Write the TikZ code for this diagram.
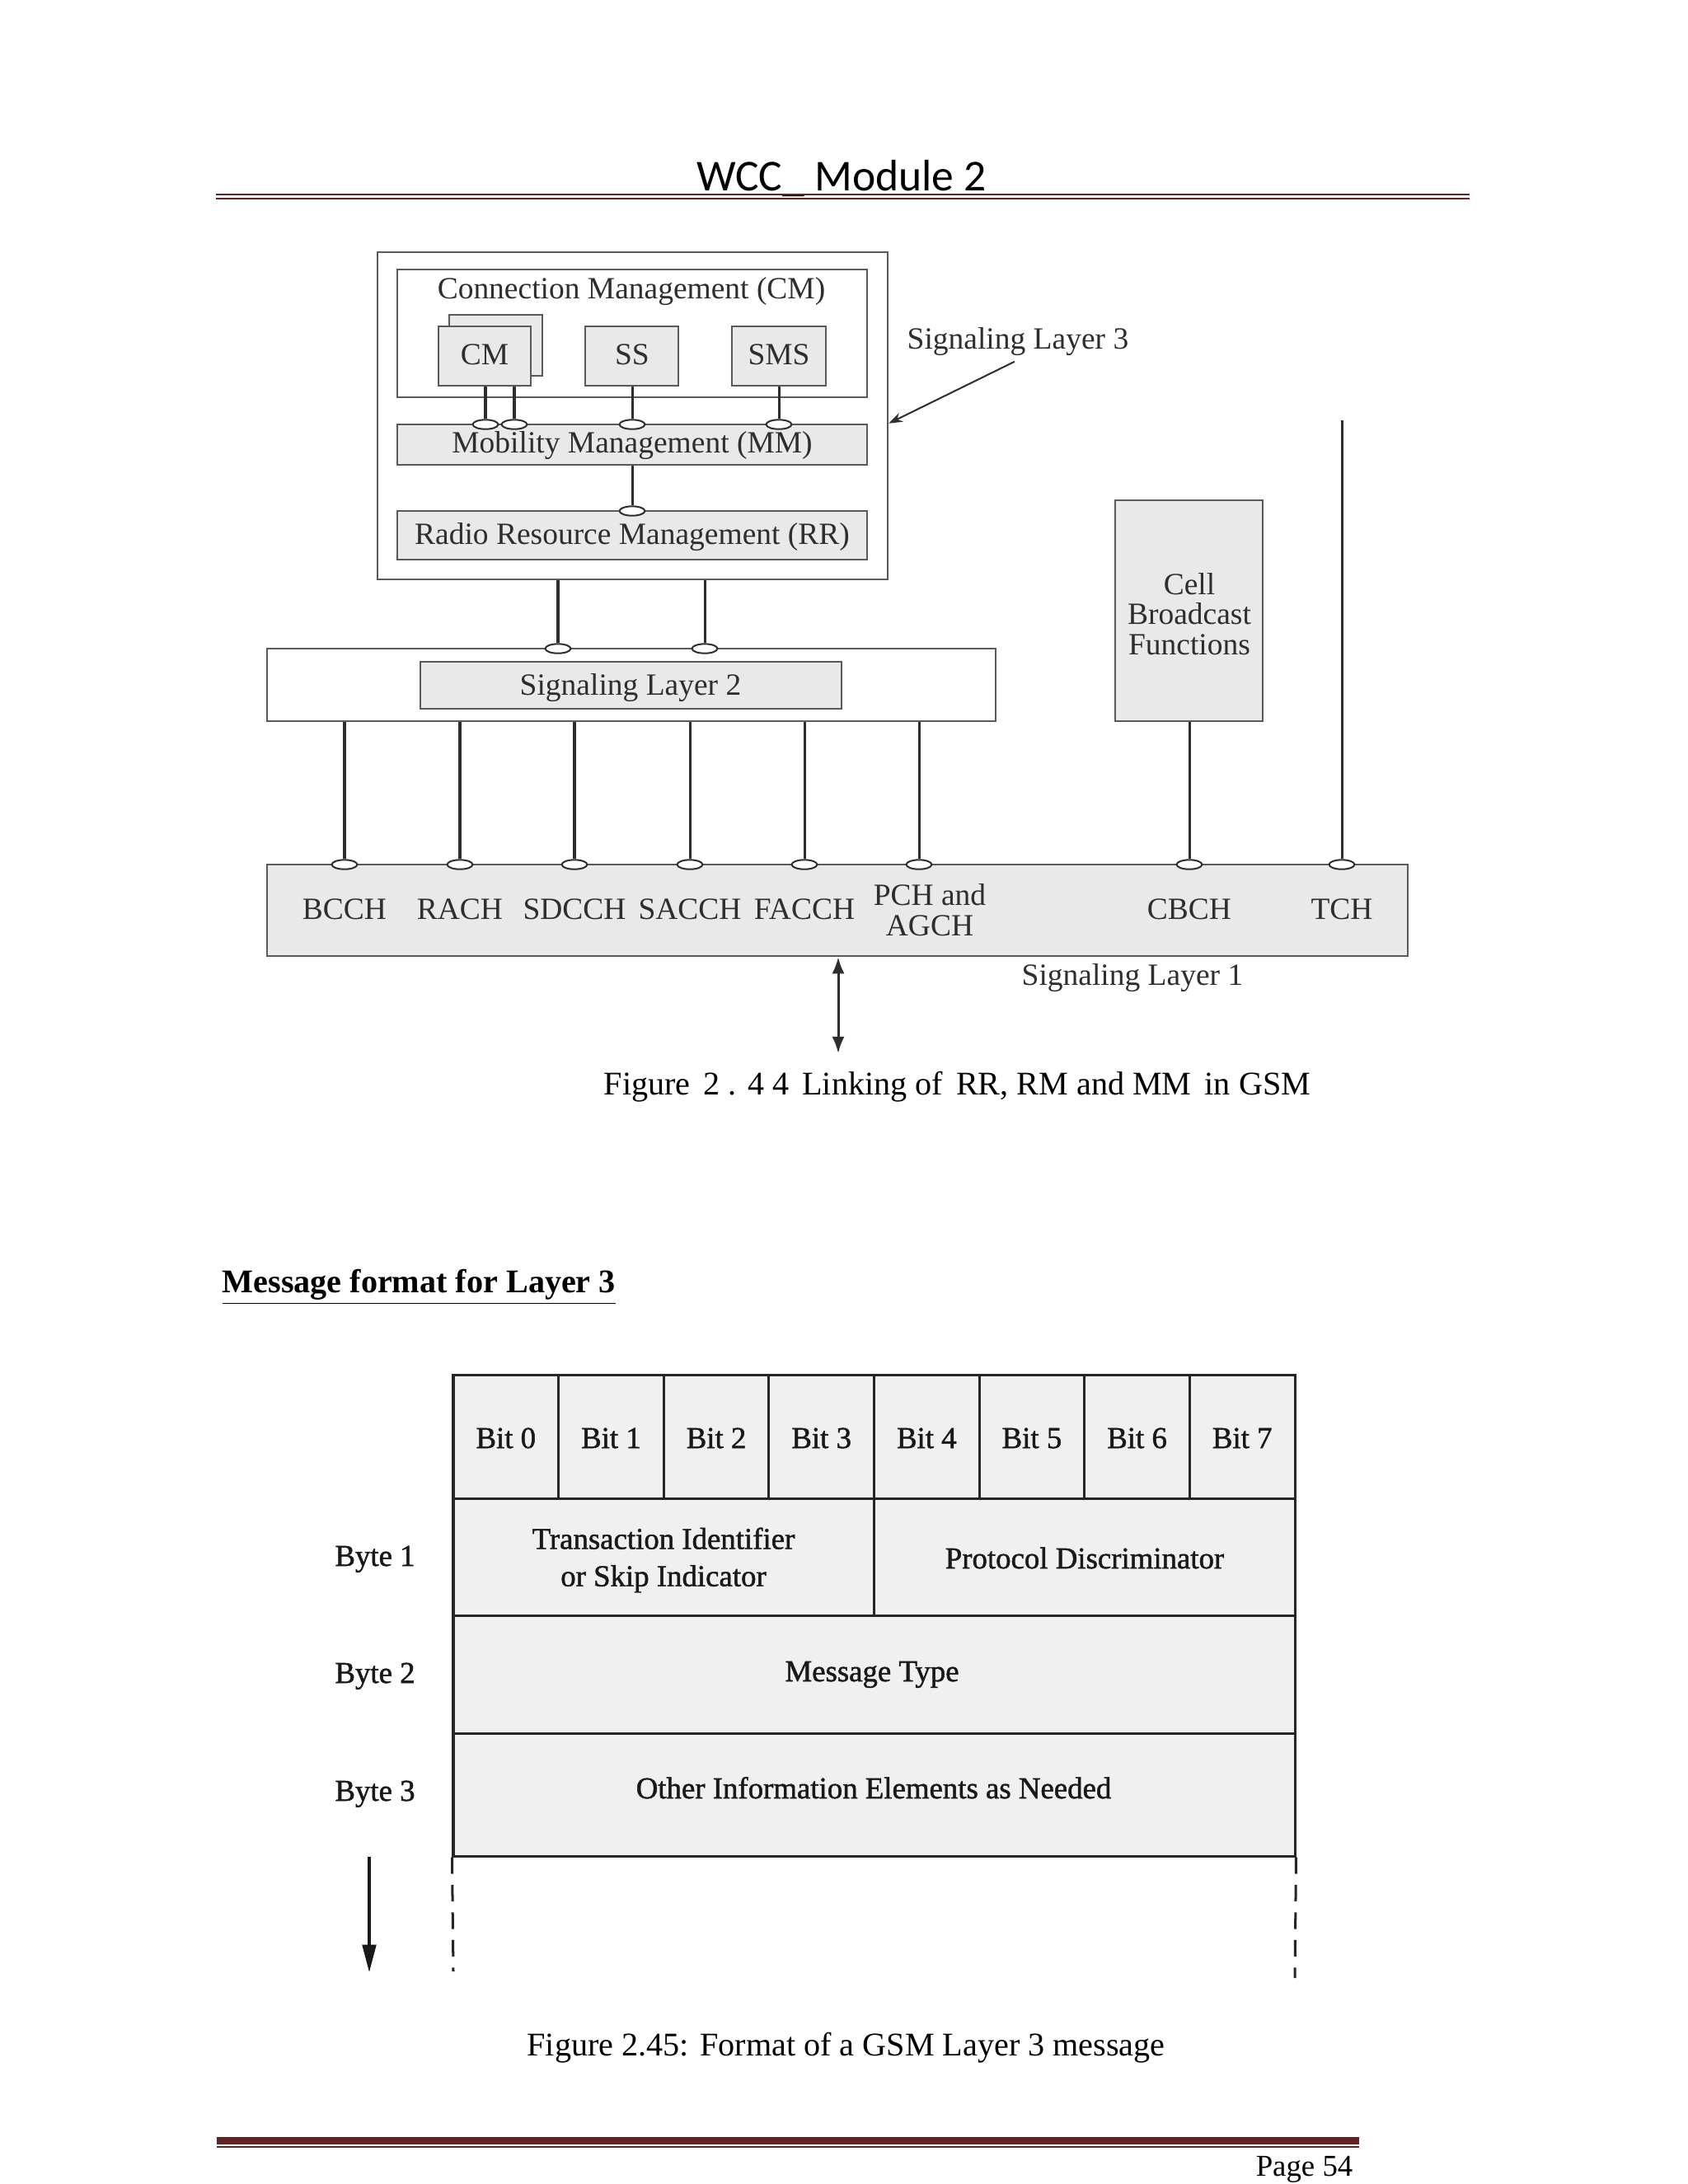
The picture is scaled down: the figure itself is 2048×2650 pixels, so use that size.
\documentclass[tikz,border=0pt]{standalone}
\usepackage{fontspec}
\setmainfont{Liberation Serif}
\newfontfamily\hdrfont{Carlito}
\newfontfamily\scanfont[FakeBold=1.3]{Liberation Serif}
\usetikzlibrary{arrows.meta,fit,shapes.geometric,calc}
\definecolor{maroon}{HTML}{622423}
\definecolor{boxgray}{HTML}{E9E9E9}
\definecolor{linegray}{HTML}{5A5A5A}
\definecolor{ink}{HTML}{2E2E2E}
\tikzset{
  dfont/.style={font=\fontsize{11.2}{11}\selectfont, text=ink},
  outerbox/.style={draw=linegray, line width=0.75pt, fill=white, inner sep=0pt},
  graybox/.style={draw=linegray, line width=0.75pt, fill=boxgray, inner sep=0pt},
  conn/.style={draw=ink, line width=0.9pt},
  port/.style={ellipse, draw=ink, line width=0.6pt, fill=white, minimum width=9.2pt, minimum height=3.4pt, inner sep=0pt},
  lbl/.style={dfont, inner sep=0pt, anchor=base},
  cell/.style={draw=black!85, line width=0.9pt, fill=black!6, inner sep=0pt},
  scanlbl/.style={font=\scanfont\fontsize{11}{13.5}\selectfont, text=black!90, inner sep=0pt, anchor=base, align=center},
  capfont/.style={font=\fontsize{12}{14}\selectfont, inner sep=0pt},
  hdrrule/.style={draw=maroon},
}
\begin{document}
\begin{tikzpicture}[x=0.29883pt, y=-0.29883pt]
\useasboundingbox (0,0) rectangle (2048,2650);
\fill[white] (0,0) rectangle (2048,2650);

% ---------- page header ----------
\node[font=\hdrfont\fontsize{16}{18}\selectfont, inner sep=0pt, anchor=base] (title) at (1021,231) {WCC\_ Module 2};
\draw[hdrrule, line width=0.8pt] (262,236) -- (1783,236);
\draw[hdrrule, line width=0.4pt] (262,241) -- (1783,241);

% ---------- Figure 2.44 ----------
\node[outerbox, fit={(458,306)(1077,703)}] (l3) {};
\node[outerbox, fit={(482,327)(1052,482)}] (cmgr) {};
\node[lbl] (cmlbl) at (766,362) {Connection Management (CM)};
\node[graybox, fit={(545,382)(658,456)}] (cmback) {};
\node[graybox, fit={(532,396)(644,468)}] (cmf) {};
\node[lbl] (cmtxt) at (588,442) {CM};
\node[graybox, fit={(710,396)(823,468)}] (ss) {};
\node[lbl] (sstxt) at (767,442) {SS};
\node[graybox, fit={(888,396)(1002,468)}] (sms) {};
\node[lbl] (smstxt) at (945,442) {SMS};
\node[graybox, fit={(482,515)(1052,564)}] (mm) {};
\node[lbl] (mmtxt) at (767,549) {Mobility Management (MM)};
\node[graybox, fit={(482,620)(1052,679)}] (rr) {};
\node[lbl] (rrtxt) at (767,660) {Radio Resource Management (RR)};

\node[outerbox, fit={(324,787)(1208,875)}] (l2) {};
\node[graybox, fit={(510,803)(1021,860)}] (l2in) {};
\node[lbl] (l2txt) at (765,843) {Signaling Layer 2};
\node[graybox, fit={(1353,607)(1532,875)}] (cbf) {};
\node[dfont, inner sep=0pt, align=center] (cbftxt) at (1443,745) {Cell\\Broadcast\\Functions};
\node[graybox, fit={(324,1049)(1708,1160)}] (l1) {};

% ports
\node[port] (pcm1) at (589,515) {};
\node[port] (pcm2) at (624,515) {};
\node[port] (pss) at (767,515) {};
\node[port] (psms) at (945,515) {};
\node[port] (prr) at (767,620) {};
\node[port] (pl2a) at (677,787) {};
\node[port] (pl2b) at (855,787) {};
\foreach \n/\x in {bcch/418, rach/558, sdcch/697, sacch/837, facch/976, pch/1115, cbch/1443, tch/1628}
  \node[port] (p\n) at (\x,1049) {};

% connectors
\draw[conn] (cmf.south -| pcm1) -- (pcm1.north);
\draw[conn] (cmf.south -| pcm2) -- (pcm2.north);
\draw[conn] (ss.south -| pss) -- (pss.north);
\draw[conn] (sms.south -| psms) -- (psms.north);
\draw[conn] (mm.south -| prr) -- (prr.north);
\draw[conn] (l3.south -| pl2a) -- (pl2a.north);
\draw[conn] (l3.south -| pl2b) -- (pl2b.north);
\foreach \n in {bcch, rach, sdcch, sacch, facch, pch}
  \draw[conn] (l2.south -| p\n) -- (p\n.north);
\draw[conn] (cbf.south -| pcbch) -- (pcbch.north);
\coordinate (tchtop) at (1628,510);
\draw[conn] (tchtop) -- (ptch.north);

% channel labels
\node[lbl] (bcch) at (418,1115) {BCCH};
\node[lbl] (rach) at (558,1115) {RACH};
\node[lbl] (sdcch) at (697,1115) {SDCCH};
\node[lbl] (sacch) at (837,1115) {SACCH};
\node[lbl] (facch) at (976,1115) {FACCH};
\node[dfont, inner sep=0pt, align=center] (pchagch) at (1128,1104) {PCH and\\AGCH};
\node[lbl] (cbch) at (1443,1115) {CBCH};
\node[lbl] (tch) at (1628,1115) {TCH};

% side labels and arrows
\node[lbl, anchor=base west] (sl3) at (1100,423) {Signaling Layer 3};
\draw[ink, line width=0.6pt, -{Stealth[length=5pt,width=3.5pt]}] ($(sl3.south)+(-4,7)$) -- (l3.east |- mm.north);
\node[lbl, anchor=base west] (sl1) at (1239,1195) {Signaling Layer 1};
\coordinate (ioend) at (1017,1278);
\draw[conn, {Latex[length=6pt,width=4.5pt]}-{Latex[length=6pt,width=4.5pt]}] (l1.south -| ioend) -- (ioend);

\node[capfont, anchor=base west] (cap1) at (732,1328) {Figure\hspace{0.4em}2 . 4 4\hspace{0.4em}Linking of\hspace{0.4em}RR, RM and MM\hspace{0.4em}in GSM};

% ---------- heading ----------
\node[capfont, anchor=base west] (head) at (269,1568) {\bfseries\underline{Message format for Layer 3}};

% ---------- Figure 2.45 ----------
\foreach \i in {0,...,7} {
  \pgfmathsetmacro\xa{550+127.625*\i}
  \pgfmathsetmacro\xb{550+127.625*(\i+1)}
  \pgfmathsetmacro\xc{550+127.625*(\i+0.5)}
  \node[cell, fit={(\xa,1668)(\xb,1818)}] (bit\i) {};
  \node[scanlbl] (bit\i txt) at (\xc,1757) {Bit \i};
}
\node[cell, fit={(550,1818)(1060.5,1960)}] (tid) {};
\node[scanlbl, anchor=center] (tidtxt) at (805,1893) {Transaction Identifier\\or Skip Indicator};
\node[cell, fit={(1060.5,1818)(1571,1960)}] (pd) {};
\node[scanlbl] (pdtxt) at (1316,1903) {Protocol Discriminator};
\node[cell, fit={(550,1960)(1571,2103)}] (mt) {};
\node[scanlbl] (mttxt) at (1058,2040) {Message Type};
\node[cell, fit={(550,2103)(1571,2252)}] (oie) {};
\node[scanlbl] (oietxt) at (1060,2182) {Other Information Elements as Needed};

\node[scanlbl] (by1) at (455,1900) {Byte 1};
\node[scanlbl] (by2) at (455,2042) {Byte 2};
\node[scanlbl] (by3) at (455,2185) {Byte 3};

\coordinate (dl) at (550,2392);
\coordinate (dr) at (1571,2400);
\draw[black!85, line width=0.9pt, dash pattern=on 6pt off 4pt] (oie.south west) -- (dl);
\draw[black!85, line width=0.9pt, dash pattern=on 6pt off 4pt] (oie.south east) -- (dr);
\coordinate (ds) at (448,2253);
\coordinate (de) at (448,2393);
\draw[black!90, line width=0.9pt, -{Triangle[length=10pt,width=5pt]}] (ds) -- (de);

\node[capfont, anchor=base west] (cap2) at (639,2494) {Figure 2.45: Format of a GSM Layer 3 message};

% ---------- page footer ----------
\draw[hdrrule, line width=2.7pt] (263,2597.5) -- (1649,2597.5);
\draw[hdrrule, line width=0.45pt] (263,2605) -- (1649,2605);
\node[font=\fontsize{11}{13}\selectfont, inner sep=0pt, anchor=base east] (page) at (1642,2640) {Page 54};
\end{tikzpicture}
\end{document}
